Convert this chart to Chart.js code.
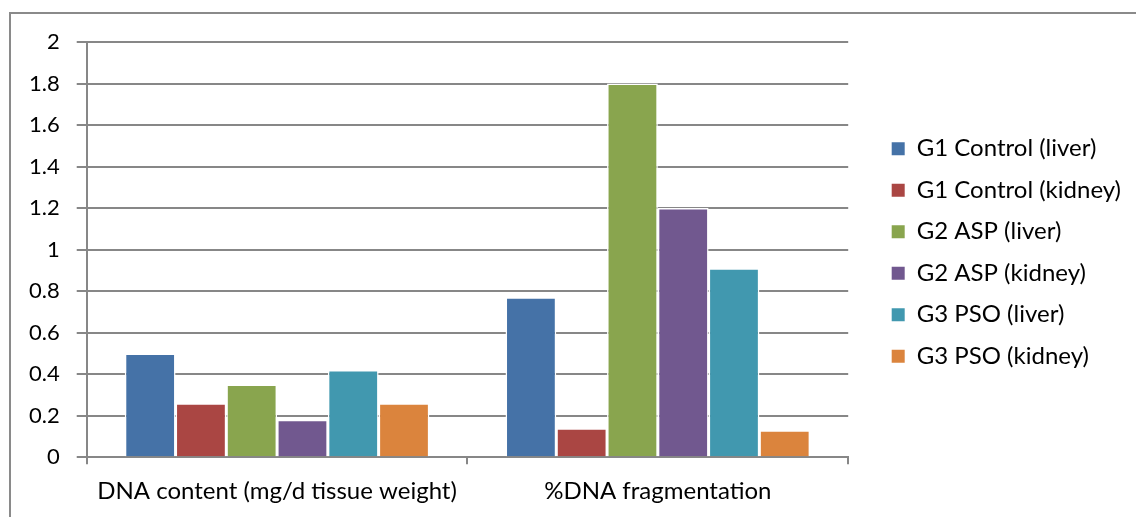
<!DOCTYPE html>
<html lang="en">
<head>
    <meta charset="UTF-8">
    <title>DNA content and fragmentation</title>
    <script src="https://cdn.jsdelivr.net/npm/chart.js"></script>
    <style>
        html, body {
            margin: 0;
            padding: 0;
            background: #ffffff;
            overflow: hidden;
        }
        .frame {
            position: absolute;
            left: 9px;
            top: 12px;
            width: 1200px;
            height: 600px;
            border: 2px solid #8a8a8a;
        }
        #wrap {
            position: absolute;
            left: 0;
            top: 0;
            width: 1136px;
            height: 517px;
        }
    </style>
</head>
<body>
<div class="frame"></div>
<div id="wrap"><canvas id="dnaChart"></canvas></div>
<script>
    // data
    const categories = ['DNA content (mg/d tissue weight)', '%DNA fragmentation'];
    const seriesNames = ['G1 Control (liver)', 'G1 Control (kidney)', 'G2 ASP (liver)',
                         'G2 ASP (kidney)', 'G3 PSO (liver)', 'G3 PSO (kidney)'];
    const g1Liver  = [0.50, 0.77];
    const g1Kidney = [0.26, 0.14];
    const g2Liver  = [0.35, 1.80];
    const g2Kidney = [0.18, 1.20];
    const g3Liver  = [0.42, 0.91];
    const g3Kidney = [0.26, 0.13];
    const seriesColors = ['#4572a7', '#aa4643', '#89a54e', '#71588f', '#4198af', '#db843d'];
    const yTicks = [0, 0.2, 0.4, 0.6, 0.8, 1, 1.2, 1.4, 1.6, 1.8, 2];
    const yTickLabels = ['0', '0.2', '0.4', '0.6', '0.8', '1', '1.2', '1.4', '1.6', '1.8', '2'];

    const seriesValues = [g1Liver, g1Kidney, g2Liver, g2Kidney, g3Liver, g3Kidney];
    const FAMILY = 'Lato, "Open Sans", sans-serif';
    const GRID = '#878787';

    // push the legend a bit away from the plot, and up
    const legendShift = {
        id: 'legendShift',
        afterLayout(chart) {
            const l = chart.legend;
            l.left += 26; l.right += 26;
            l.top -= 28; l.bottom -= 28;
        }
    };

    new Chart(document.getElementById('dnaChart'), {
        type: 'bar',
        data: {
            labels: categories,
            datasets: seriesNames.map((name, i) => ({
                label: name,
                data: seriesValues[i],
                backgroundColor: seriesColors[i],
                borderColor: '#ffffff',
                borderWidth: 1.5,
                barPercentage: 1,
                categoryPercentage: 0.8
            }))
        },
        options: {
            responsive: true,
            maintainAspectRatio: false,
            animation: false,
            layout: { padding: { top: 42, left: 12, bottom: -2, right: 31 } },
            plugins: {
                tooltip: { enabled: false },
                legend: {
                    position: 'right',
                    labels: {
                        color: '#000',
                        font: { family: FAMILY, size: 24 },
                        boxWidth: 13,
                        boxHeight: 13,
                        padding: 17.5,
                        generateLabels(chart) {
                            return chart.data.datasets.map((ds, i) => ({
                                text: ds.label,
                                fillStyle: ds.backgroundColor,
                                strokeStyle: ds.backgroundColor,
                                lineWidth: 0,
                                fontColor: '#000',
                                datasetIndex: i
                            }));
                        }
                    }
                }
            },
            scales: {
                x: {
                    grid: {
                        offset: true,
                        drawOnChartArea: false,
                        tickLength: 7,
                        color: GRID,
                        lineWidth: 2
                    },
                    border: { color: GRID, width: 2 },
                    ticks: { color: '#000', font: { family: FAMILY, size: 24 }, padding: 13, maxRotation: 0 }
                },
                y: {
                    min: 0,
                    max: 2,
                    afterBuildTicks(axis) {
                        axis.ticks = yTicks.map(v => ({ value: v }));
                    },
                    grid: { color: GRID, lineWidth: 2, tickLength: 10 },
                    border: { color: GRID, width: 2 },
                    ticks: {
                        color: '#000',
                        font: { family: FAMILY, size: 22 },
                        padding: 17,
                        callback: (value, index) => yTickLabels[index]
                    }
                }
            }
        },
        plugins: [legendShift]
    });
</script>
</body>
</html>
